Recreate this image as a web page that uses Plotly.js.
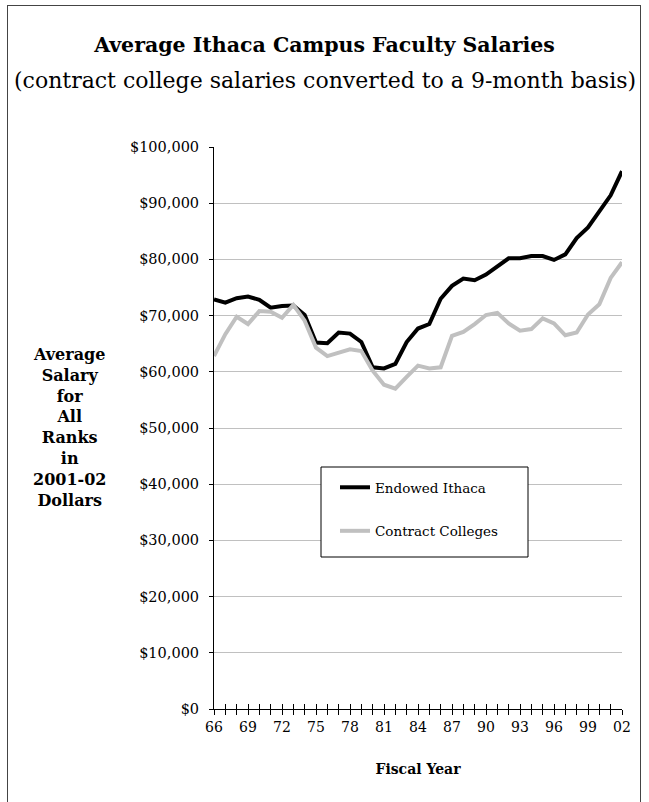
<!DOCTYPE html>
<html>
<head>
<meta charset="utf-8">
<script src="https://cdn.plot.ly/plotly-3.0.1.min.js"></script>
<style>
  html, body { margin: 0; padding: 0; background: #fff; }
  #wrap { position: relative; width: 649px; height: 802px; overflow: hidden; }
  #chart { position: absolute; left: 0; top: 0; width: 649px; height: 802px; }
  #frame { position: absolute; left: 7px; top: 5px; width: 634px; height: 820px;
           border: 1px solid #444; pointer-events: none; box-sizing: border-box; }
</style>
</head>
<body>
<div id="wrap">
  <div id="chart"></div>
  <div id="frame"></div>
</div>
<script>
// Fiscal years 1966 .. 2002
const fiscalYears = [1966,1967,1968,1969,1970,1971,1972,1973,1974,1975,1976,1977,1978,1979,1980,1981,1982,1983,1984,1985,1986,1987,1988,1989,1990,1991,1992,1993,1994,1995,1996,1997,1998,1999,2000,2001,2002];
const yearLabels = ["66","","","69","","","72","","","75","","","78","","","81","","","84","","","87","","","90","","","93","","","96","","","99","","","02"];

// Average salary, 2001-02 dollars
const endowedIthaca = [72900,72300,73100,73400,72800,71400,71700,71800,70100,65200,65100,67000,66800,65300,60800,60600,61400,65300,67700,68500,73000,75300,76600,76300,77300,78700,80200,80200,80600,80600,79900,80900,83800,85700,88400,91400,95700];
const contractColleges = [62800,66700,69800,68500,70800,70700,69600,71900,69100,64300,62800,63400,64000,63700,60200,57700,57000,59100,61100,60600,60800,66400,67100,68500,70100,70500,68600,67300,67600,69500,68600,66500,67000,70200,72000,76700,79500];

const yTickVals = [0,10000,20000,30000,40000,50000,60000,70000,80000,90000,100000];
const yTickText = ["$0","$10,000","$20,000","$30,000","$40,000","$50,000","$60,000","$70,000","$80,000","$90,000","$100,000"];

const FONT = "'DejaVu Serif', serif";

const traces = [
  { x: fiscalYears, y: endowedIthaca, type: 'scatter', mode: 'lines', name: 'Endowed Ithaca',
    line: { color: '#000000', width: 4 }, legendgroup: 'a' },
  { x: fiscalYears, y: contractColleges, type: 'scatter', mode: 'lines', name: 'Contract Colleges',
    line: { color: '#c0c0c0', width: 4 }, legendgroup: 'b' },
  // helper trace so the overlaid tick axis (inside ticks) is drawn
  { x: fiscalYears, y: endowedIthaca, xaxis: 'x2', type: 'scatter', mode: 'lines',
    line: { color: 'rgba(0,0,0,0)', width: 0 }, showlegend: false, hoverinfo: 'skip' }
];

const layout = {
  width: 649, height: 802,
  margin: { l: 214, r: 27, t: 147, b: 93 },
  paper_bgcolor: '#ffffff', plot_bgcolor: '#ffffff',
  font: { family: FONT, size: 14, color: '#000' },
  title: {
    text: '<b>Average Ithaca Campus Faculty Salaries</b>',
    font: { family: FONT, size: 20.5, color: '#000' },
    x: 0.5, xref: 'container', xanchor: 'center',
    y: 1 - 45/802, yref: 'container', yanchor: 'middle'
  },
  xaxis: {
    type: 'linear', range: [1966, 2002],
    tickmode: 'array', tickvals: fiscalYears, ticktext: yearLabels,
    ticks: 'outside', ticklen: 5, tickwidth: 1, tickcolor: '#000',
    showline: true, linecolor: '#000', linewidth: 1,
    showgrid: false, zeroline: false,
    tickfont: { family: FONT, size: 14, color: '#000' },
    title: { text: '<b>Fiscal Year</b>', font: { family: FONT, size: 14, color: '#000' }, standoff: 30 }
  },
  xaxis2: {
    type: 'linear', range: [1966, 2002], overlaying: 'x', anchor: 'y',
    tickmode: 'array', tickvals: fiscalYears, showticklabels: false,
    ticks: 'inside', ticklen: 5, tickwidth: 1, tickcolor: '#000',
    showline: false, showgrid: false, zeroline: false
  },
  yaxis: {
    range: [0, 100000],
    tickmode: 'array', tickvals: yTickVals, ticktext: yTickText,
    ticks: 'outside', ticklen: 4, tickwidth: 1, tickcolor: '#000',
    ticklabelstandoff: 7,
    showline: true, linecolor: '#000', linewidth: 1,
    showgrid: true, gridcolor: '#c0c0c0', gridwidth: 1,
    zeroline: false,
    tickfont: { family: FONT, size: 14.5, color: '#000' }
  },
  showlegend: true,
  legend: {
    x: (335-214)/408, y: (709-472)/562, xanchor: 'left', yanchor: 'top',
    bgcolor: 'rgba(0,0,0,0)', borderwidth: 0,
    font: { family: FONT, size: 13.5, color: '#000' },
    traceorder: 'grouped', tracegroupgap: 23
  },
  shapes: [
    { type: 'rect', xref: 'paper', yref: 'paper',
      x0: (321-214)/408, x1: (528-214)/408, y0: (709-557)/562, y1: (709-467)/562,
      line: { color: '#000', width: 1 }, fillcolor: '#ffffff', layer: 'above' }
  ],
  annotations: [
    { text: '(contract college salaries converted to a 9-month basis)',
      xref: 'paper', yref: 'paper', x: (324.5-214)/408, y: (709-80)/562,
      xanchor: 'center', yanchor: 'middle', showarrow: false,
      font: { family: FONT, size: 22, color: '#000' } },
    { text: '<b>Average<br>Salary<br>for<br>All<br>Ranks<br>in<br>2001-02<br>Dollars</b>',
      xref: 'paper', yref: 'paper', x: (69-214)/408, y: (709-427)/562,
      xanchor: 'center', yanchor: 'middle', align: 'center', showarrow: false,
      font: { family: FONT, size: 16, color: '#000' } }
  ],
  hovermode: false
};

Plotly.newPlot('chart', traces, layout, { staticPlot: true, displayModeBar: false });
</script>
</body>
</html>
